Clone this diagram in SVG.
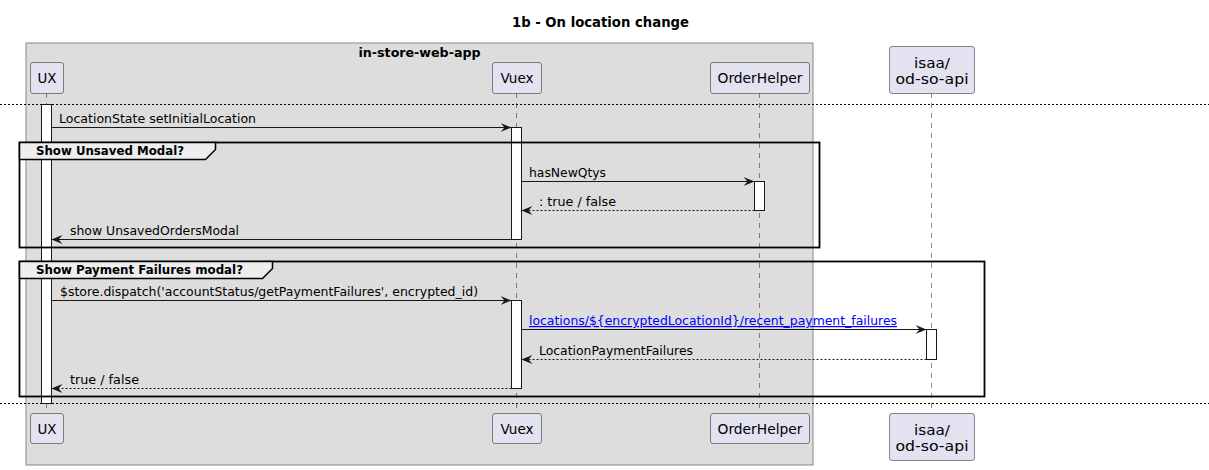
<svg xmlns="http://www.w3.org/2000/svg" width="1209" height="470" viewBox="0 0 1209 470">
<style>
text{font-family:"DejaVu Sans","Liberation Sans",sans-serif;fill:#000}
.t{font-size:14px;font-weight:bold}
.bx{font-size:12px;font-weight:bold}
.p{font-size:14px}
.m{font-size:12px}
.g{font-size:12px;font-weight:bold}
.lnk{fill:#0000FF;text-decoration:underline}
.part{fill:#E2E2F0;stroke:#181818;stroke-width:0.5}
.life{stroke:#181818;stroke-width:0.5;stroke-dasharray:5,5;fill:none}
.act{fill:#FFFFFF;stroke:#181818;stroke-width:1}
.msg{stroke:#181818;stroke-width:1;fill:none;marker-end:url(#ah)}
.ret{stroke-dasharray:2,2}
.div{stroke:#000;stroke-width:1;stroke-dasharray:2,2;fill:none}
.frame{fill:none;stroke:#000;stroke-width:1.8}
.tab{fill:#EEEEEE;stroke:#000;stroke-width:1.5}
</style>
<defs>
<marker id="ah" markerUnits="userSpaceOnUse" markerWidth="11" markerHeight="9" refX="11" refY="4.5" orient="auto">
<path d="M0,0 L11,4.5 L0,9 L4,4.5 Z" fill="#181818"/>
</marker>
</defs>
<rect width="1209" height="470" fill="#FFFFFF"/>
<text class="t" x="600.5" y="27" text-anchor="middle" textLength="177" lengthAdjust="spacingAndGlyphs">1b - On location change</text>
<g id="box-in-store-web-app">
<rect x="26" y="43" width="787" height="422" fill="#DDDDDD" stroke="#888888" stroke-width="1"/>
<text class="bx" x="419.5" y="57" text-anchor="middle" textLength="122" lengthAdjust="spacingAndGlyphs">in-store-web-app</text>
</g>
<g id="lifelines">
<path class="life" d="M46.5,93 V413"/>
<path class="life" d="M516.5,93 V413"/>
<path class="life" d="M759.5,93 V413"/>
<path class="life" d="M931.5,93 V413"/>
</g>
<g id="dividers">
<path class="div" d="M0,104.5 H1209"/>
<path class="div" d="M0,403.5 H1209"/>
</g>
<g id="p-UX">
<rect class="part" x="30.5" y="62.5" width="33" height="31" rx="2.5"/>
<text class="p" x="47" y="83" text-anchor="middle" textLength="19" lengthAdjust="spacingAndGlyphs">UX</text>
<rect class="part" x="30.5" y="413.5" width="33" height="30" rx="2.5"/>
<text class="p" x="47" y="434" text-anchor="middle" textLength="19" lengthAdjust="spacingAndGlyphs">UX</text>
</g>
<g id="p-Vuex">
<rect class="part" x="492.5" y="62.5" width="49" height="31" rx="2.5"/>
<text class="p" x="517" y="83" text-anchor="middle" textLength="33" lengthAdjust="spacingAndGlyphs">Vuex</text>
<rect class="part" x="492.5" y="413.5" width="49" height="30" rx="2.5"/>
<text class="p" x="517" y="434" text-anchor="middle" textLength="33" lengthAdjust="spacingAndGlyphs">Vuex</text>
</g>
<g id="p-OrderHelper">
<rect class="part" x="710.5" y="62.5" width="99" height="31" rx="2.5"/>
<text class="p" x="760" y="83" text-anchor="middle" textLength="85" lengthAdjust="spacingAndGlyphs">OrderHelper</text>
<rect class="part" x="710.5" y="413.5" width="99" height="30" rx="2.5"/>
<text class="p" x="760" y="434" text-anchor="middle" textLength="85" lengthAdjust="spacingAndGlyphs">OrderHelper</text>
</g>
<g id="p-isaa">
<rect class="part" x="889.5" y="46.5" width="85" height="47" rx="2.5"/>
<text class="p" x="932" y="68" text-anchor="middle" textLength="36" lengthAdjust="spacingAndGlyphs">isaa/</text>
<text class="p" x="932" y="84" text-anchor="middle" textLength="73" lengthAdjust="spacingAndGlyphs">od-so-api</text>
<rect class="part" x="889.5" y="413.5" width="85" height="47" rx="2.5"/>
<text class="p" x="932" y="435" text-anchor="middle" textLength="36" lengthAdjust="spacingAndGlyphs">isaa/</text>
<text class="p" x="932" y="451" text-anchor="middle" textLength="73" lengthAdjust="spacingAndGlyphs">od-so-api</text>
</g>
<g id="activations">
<rect class="act" x="41.5" y="104.5" width="10" height="299"/>
<rect class="act" x="511.5" y="127.5" width="10" height="112"/>
<rect class="act" x="754.5" y="181.5" width="10" height="29"/>
<rect class="act" x="511.5" y="300.5" width="10" height="88"/>
<rect class="act" x="926.5" y="329.5" width="10" height="30"/>
</g>
<g id="group-unsaved">
<rect class="frame" x="19.5" y="142.5" width="800" height="105"/>
<path class="tab" d="M19.5,142.5 H215.5 V149.5 L205.5,159.5 H19.5 Z"/>
<text class="g" x="36" y="155" textLength="148" lengthAdjust="spacingAndGlyphs">Show Unsaved Modal?</text>
</g>
<g id="group-payment">
<rect class="frame" x="19.5" y="261.5" width="965" height="135"/>
<path class="tab" d="M19.5,261.5 H272.5 V268.5 L262.5,278.5 H19.5 Z"/>
<text class="g" x="36" y="274" textLength="207" lengthAdjust="spacingAndGlyphs">Show Payment Failures modal?</text>
</g>
<g id="connectors">
<path class="msg" d="M51.5,127.5 H511.5"/>
<text class="m" x="59" y="123" textLength="197" lengthAdjust="spacingAndGlyphs">LocationState setInitialLocation</text>
<path class="msg" d="M521.5,181.5 H754.5"/>
<text class="m" x="529" y="177" textLength="77" lengthAdjust="spacingAndGlyphs">hasNewQtys</text>
<path class="msg ret" d="M754.5,210.5 H521.5"/>
<text class="m" x="539" y="206" textLength="77" lengthAdjust="spacingAndGlyphs">: true / false</text>
<path class="msg" d="M511.5,239.5 H51.5"/>
<text class="m" x="70" y="235" textLength="169" lengthAdjust="spacingAndGlyphs">show UnsavedOrdersModal</text>
<path class="msg" d="M51.5,300.5 H511.5"/>
<text class="m" x="60" y="296" textLength="418" lengthAdjust="spacingAndGlyphs">$store.dispatch('accountStatus/getPaymentFailures', encrypted_id)</text>
<path class="msg" d="M521.5,329.5 H926.5"/>
<text class="m lnk" x="529" y="325" textLength="368" lengthAdjust="spacingAndGlyphs">locations/${encryptedLocationId}/recent_payment_failures</text>
<path class="msg ret" d="M926.5,359.5 H521.5"/>
<text class="m" x="539" y="355" textLength="154" lengthAdjust="spacingAndGlyphs">LocationPaymentFailures</text>
<path class="msg ret" d="M511.5,388.5 H51.5"/>
<text class="m" x="70" y="384" textLength="69" lengthAdjust="spacingAndGlyphs">true / false</text>
</g>
</svg>
